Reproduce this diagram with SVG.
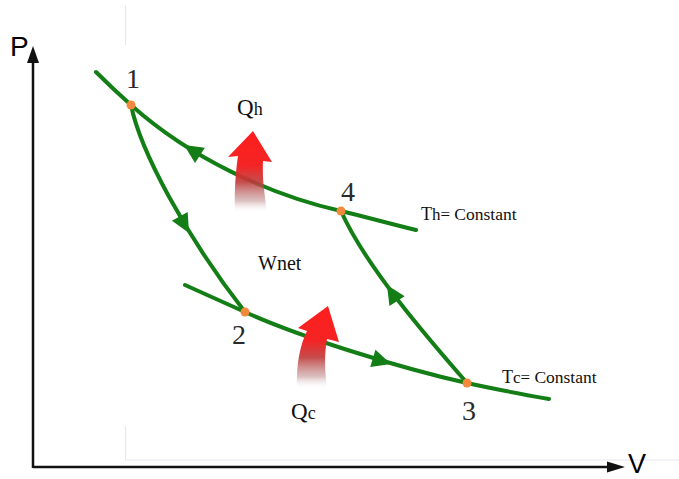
<svg xmlns="http://www.w3.org/2000/svg" width="679" height="479" viewBox="0 0 679 479">
<style>
.curve{fill:none;stroke:#147e16;stroke-width:4;stroke-linecap:round}
.ah{fill:#147e16}
.pt{fill:#f3893c}
.axis{stroke:#111;stroke-width:2.5;fill:none}
.num{font-family:"Liberation Serif",serif;font-size:28px;fill:#2a2a2a;text-anchor:middle}
.lbl{font-family:"Liberation Serif",serif;fill:#111}
.sans{font-family:"Liberation Sans",Arial,sans-serif;fill:#000}
.faint{stroke:#e6e6f6;stroke-width:1.2;fill:none}
</style>
<defs>
<linearGradient id="heat" x1="0" y1="0" x2="0" y2="1">
<stop offset="0" stop-color="#ff1e1e"/>
<stop offset="0.42" stop-color="#f52424"/>
<stop offset="0.62" stop-color="#c03838" stop-opacity="0.9"/>
<stop offset="0.85" stop-color="#b88080" stop-opacity="0.5"/>
<stop offset="1" stop-color="#ffffff" stop-opacity="0"/>
</linearGradient>
<path id="tri" d="M0,0 L-19,-9 L-19,9 Z"/>
</defs>
<rect width="679" height="479" fill="#fff"/>
<g id="frame-lines">
<path class="faint" d="M125.5,5 V45 M125.5,426 V460 H679"/>
</g>
<g id="axes">
<path class="axis" d="M33,468 V60 M33,467 H610"/>
<path d="M33,46 L39,63 L27,63 Z" fill="#111"/>
<path d="M625,467 L607,461.5 L607,472.5 Z" fill="#111"/>
<text class="sans" x="10" y="56" font-size="28">P</text>
<text class="sans" x="628" y="473" font-size="27">V</text>
</g>
<g id="connectors">
<path id="isotherm-h" class="curve" d="M96,72 Q113,89 131,105 C190,158 270,195 341,211 C366,217 391,224 416,230"/>
<path id="isotherm-c" class="curve" d="M185,285 L245,312 C300,337 400,368 467,383 C494,389 521,394 549,399"/>
<path id="adiabat-12" class="curve" d="M131,105 C140,150 185,235 245,312"/>
<path id="adiabat-34" class="curve" d="M467,383 C425,335 365,265 341,211"/>
<use href="#tri" class="ah" transform="translate(184,145) rotate(213)"/>
<use href="#tri" class="ah" transform="translate(189,233) rotate(61)"/>
<use href="#tri" class="ah" transform="translate(391,364) rotate(17)"/>
<use href="#tri" class="ah" transform="translate(387,285) rotate(-122)"/>
</g>
<g id="heat-arrows">
<path id="qh-arrow" fill="url(#heat)" d="M253,131 L272,162 L263,161 C262,180 265,196 267,213 L235,213 C234,190 236,170 238,156 L228,157 Z"/>
<path id="qc-arrow" fill="url(#heat)" d="M328,306 L339,342 L327,339 C324,356 325,372 327,389 L297,389 C296,365 300,345 307,331 L298,328 Z"/>
</g>
<g id="node-1"><circle class="pt" cx="131" cy="105" r="4.5"/><text class="num" x="133" y="88">1</text></g>
<g id="node-2"><circle class="pt" cx="245" cy="312" r="4.5"/><text class="num" x="239" y="344">2</text></g>
<g id="node-3"><circle class="pt" cx="467" cy="383" r="4.5"/><text class="num" x="469" y="420">3</text></g>
<g id="node-4"><circle class="pt" cx="341" cy="211" r="4.5"/><text class="num" x="348" y="201">4</text></g>
<g id="labels">
<text class="lbl" x="237" y="115"><tspan font-size="23">Q</tspan><tspan font-size="18">h</tspan></text>
<text class="lbl" x="291" y="419"><tspan font-size="23">Q</tspan><tspan font-size="18">c</tspan></text>
<text class="lbl" x="258" y="270" font-size="20">Wnet</text>
<text class="lbl" x="421" y="220"><tspan font-size="18">T</tspan><tspan font-size="17">h= </tspan><tspan font-size="17.5">Constant</tspan></text>
<text class="lbl" x="502" y="383"><tspan font-size="18">T</tspan><tspan font-size="17">c= </tspan><tspan font-size="17.5">Constant</tspan></text>
</g>
</svg>
